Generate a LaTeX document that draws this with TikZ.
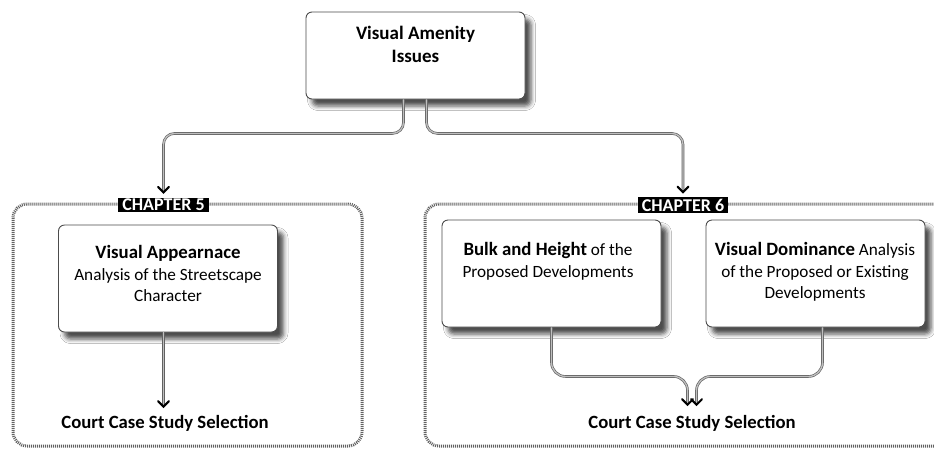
\documentclass[tikz,border=0pt]{standalone}
\usepackage{fontspec}
\setmainfont{Carlito}
\usetikzlibrary{shadows.blur,calc}
\begin{document}
\begin{tikzpicture}[x=1pt,y=-1pt,
  box/.style={draw=black!70, line width=0.9pt, fill=white, rounded corners=6pt,
    minimum width=219pt, minimum height=107pt, inner sep=0pt,
    blur shadow={shadow xshift=6pt, shadow yshift=-7pt, shadow blur radius=4.5pt, shadow opacity=70}},
  boxtext/.style={align=center, inner sep=0pt, font=\fontsize{17.2}{21.5}\selectfont},
  frame/.style={draw=black!62, line width=3pt, dash pattern=on 1pt off 1pt, rounded corners=14pt},
  chap/.style={fill=black, text=white, font=\bfseries\fontsize{18}{18}\selectfont,
    inner xsep=4pt, inner ysep=1.5pt},
  conn/.style={draw=black!62, double=black!25, line width=0.65pt, double distance=1.3pt, rounded corners=11pt},
  chev/.style={draw=black, line width=2pt, line cap=round, line join=miter},
  sel/.style={font=\bfseries\fontsize{18.7}{18.7}\selectfont, inner sep=0pt, anchor=base}
]
\useasboundingbox (0,0) rectangle (934,448);
\fill[white] (0,0) rectangle (934,448);

% dotted chapter frames
\draw[frame] (13,204) rectangle (362,446);
\draw[frame] (425,204) rectangle (950,446);

% chapter tags sitting on the frames
\node[chap] (c5) at (163.5,205) {CHAPTER 5};
\node[chap] (c6) at (683,205) {CHAPTER 6};

% top box
\node[box, minimum height=87pt] (top) at (415.5,55.5) {};
\node[boxtext, font=\bfseries\fontsize{19}{23}\selectfont, anchor=north] (toptxt) at (415.5,25.5) {Visual Amenity\\Issues};

% chapter 5 box
\node[box] (b5) at (168,278.5) {};
\node[boxtext, anchor=north] (b5txt) at (168,245.5)
  {{\bfseries\fontsize{18.8}{21.5}\selectfont Visual Appearnace}\\Analysis of the Streetscape\\Character};

% chapter 6 boxes
\node[box] (b6a) at (551.5,273.5) {};
\node[boxtext, anchor=north] (b6atxt) at (548,242.5)
  {{\bfseries\fontsize{18.8}{21.5}\selectfont Bulk and Height} of the\\Proposed Developments};
\node[box] (b6b) at (815.5,273.5) {};
\node[boxtext, anchor=north] (b6btxt) at (815,242.5)
  {{\bfseries\fontsize{18.8}{21.5}\selectfont Visual Dominance} Analysis\\of the Proposed or Existing\\Developments};

% selection labels
\node[sel] (s5) at (165,428) {Court Case Study Selection};
\node[sel] (s6) at (692,428) {Court Case Study Selection};

% arrow tip points
\coordinate (t5) at ([yshift=5pt]c5.north);
\coordinate (t6) at ([yshift=5pt]c6.north);
\coordinate (u5) at ([yshift=8pt]s5.north -| t5);
\coordinate (ta) at ([xshift=-4.5pt,yshift=10pt]s6.north);
\coordinate (tb) at ([xshift=4.5pt,yshift=10pt]s6.north);

% connectors
\draw[conn] ([xshift=-12pt]top.south) -- ++(0,34) -| (t5);
\draw[conn] ([xshift=11pt]top.south) -- ++(0,34) -| (t6);
\draw[conn] (t5 |- b5.south) -- (u5);
\draw[conn, rounded corners=14pt] (b6a.south) -- ++(0,49) -| (ta);
\draw[conn, rounded corners=14pt] ([xshift=7pt]b6b.south) -- ++(0,49) -| (tb);

% open arrow heads
\foreach \t in {t5,t6,u5,ta,tb}
  \draw[chev] ($(\t)+(-5.5,-5.5)$) -- (\t) -- ($(\t)+(5.5,-5.5)$);
\end{tikzpicture}
\end{document}
